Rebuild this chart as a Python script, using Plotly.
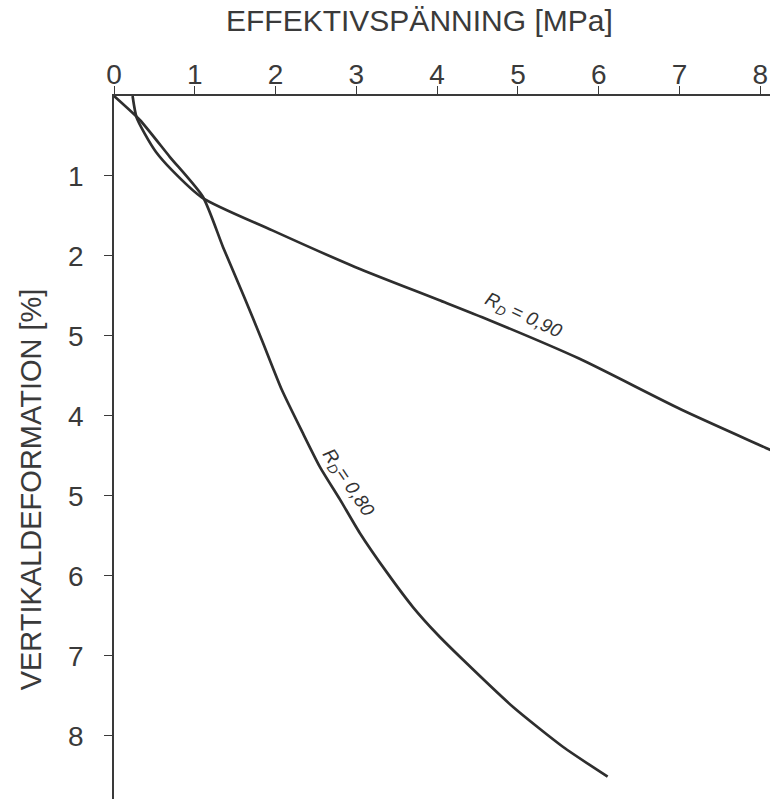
import plotly.graph_objects as go

# Effective stress [MPa] vs vertical deformation [%] for two relative densities
rd90_stress = [0.23, 0.28, 0.38, 0.52, 0.72, 1.09, 1.96, 2.99, 4.02, 4.64, 5.75, 7.02, 8.07, 8.20]
rd90_deform = [0.00, 0.27, 0.47, 0.70, 0.93, 1.27, 1.68, 2.14, 2.55, 2.80, 3.28, 3.92, 4.40, 4.46]

rd80_stress = [0.00, 0.32, 0.69, 1.10, 1.35, 1.61, 1.83, 2.08, 2.33, 2.55, 2.80, 3.04,
               3.38, 3.70, 4.01, 4.32, 4.94, 5.56, 6.11]
rd80_deform = [0.00, 0.30, 0.76, 1.26, 1.89, 2.51, 3.05, 3.68, 4.20, 4.64, 5.05, 5.46,
               5.96, 6.39, 6.74, 7.05, 7.64, 8.14, 8.51]

x_tick_vals = [0, 1, 2, 3, 4, 5, 6, 7, 8]
x_tick_text = ["0", "1", "2", "3", "4", "5", "6", "7", "8"]
y_tick_vals = [1, 2, 3, 4, 5, 6, 7, 8]
y_tick_text = ["1", "2", "5", "4", "5", "6", "7", "8"]

INK = "#2e2e2e"
AXIS = "#3a3a3a"
FONT = "Liberation Sans, Arial, sans-serif"

fig = go.Figure()
fig.add_trace(go.Scatter(x=rd90_stress, y=rd90_deform, mode="lines",
                         line=dict(color=INK, width=2.7, shape="spline", smoothing=0.7),
                         showlegend=False, hoverinfo="skip"))
fig.add_trace(go.Scatter(x=rd80_stress, y=rd80_deform, mode="lines",
                         line=dict(color=INK, width=2.7, shape="spline", smoothing=0.6),
                         showlegend=False, hoverinfo="skip"))

fig.update_layout(
    width=770, height=799,
    margin=dict(l=114, r=0, t=96, b=0),
    paper_bgcolor="white", plot_bgcolor="white",
    font=dict(family=FONT, color="#3a3a3a", size=28),
    xaxis=dict(side="top", range=[0, 8.12], tickvals=x_tick_vals, ticktext=x_tick_text,
               showline=True, linecolor=AXIS, linewidth=1.6, ticks="outside",
               ticklen=8, tickwidth=1.3, tickcolor=AXIS, showgrid=False, zeroline=False,
               ticklabelstandoff=-9, fixedrange=True),
    yaxis=dict(range=[8.79, 0], tickvals=y_tick_vals, ticktext=y_tick_text,
               showline=True, linecolor=AXIS, linewidth=1.6, ticks="outside",
               ticklen=8, tickwidth=1.3, tickcolor=AXIS, showgrid=False, zeroline=False,
               ticklabelstandoff=15, fixedrange=True),
    annotations=[
        dict(text="EFFEKTIVSPÄNNING [MPa]", xref="paper", yref="paper",
             x=0.466, y=1.108, xanchor="center", yanchor="middle", showarrow=False,
             font=dict(size=30)),
        dict(text="VERTIKALDEFORMATION [%]", xref="paper", yref="paper",
             x=-0.127, y=0.44, xanchor="center", yanchor="middle", showarrow=False,
             textangle=-90, font=dict(size=29)),
        dict(text="<i>R<sub>D</sub> = 0,90</i>", x=5.06, y=2.75, xref="x", yref="y",
             showarrow=False, textangle=25, font=dict(size=19, color="#333333")),
        dict(text="<i>R<sub>D</sub>= 0,80</i>", x=2.89, y=4.84, xref="x", yref="y",
             showarrow=False, textangle=56, font=dict(size=19, color="#333333")),
    ],
)

fig.write_html("out.html")
